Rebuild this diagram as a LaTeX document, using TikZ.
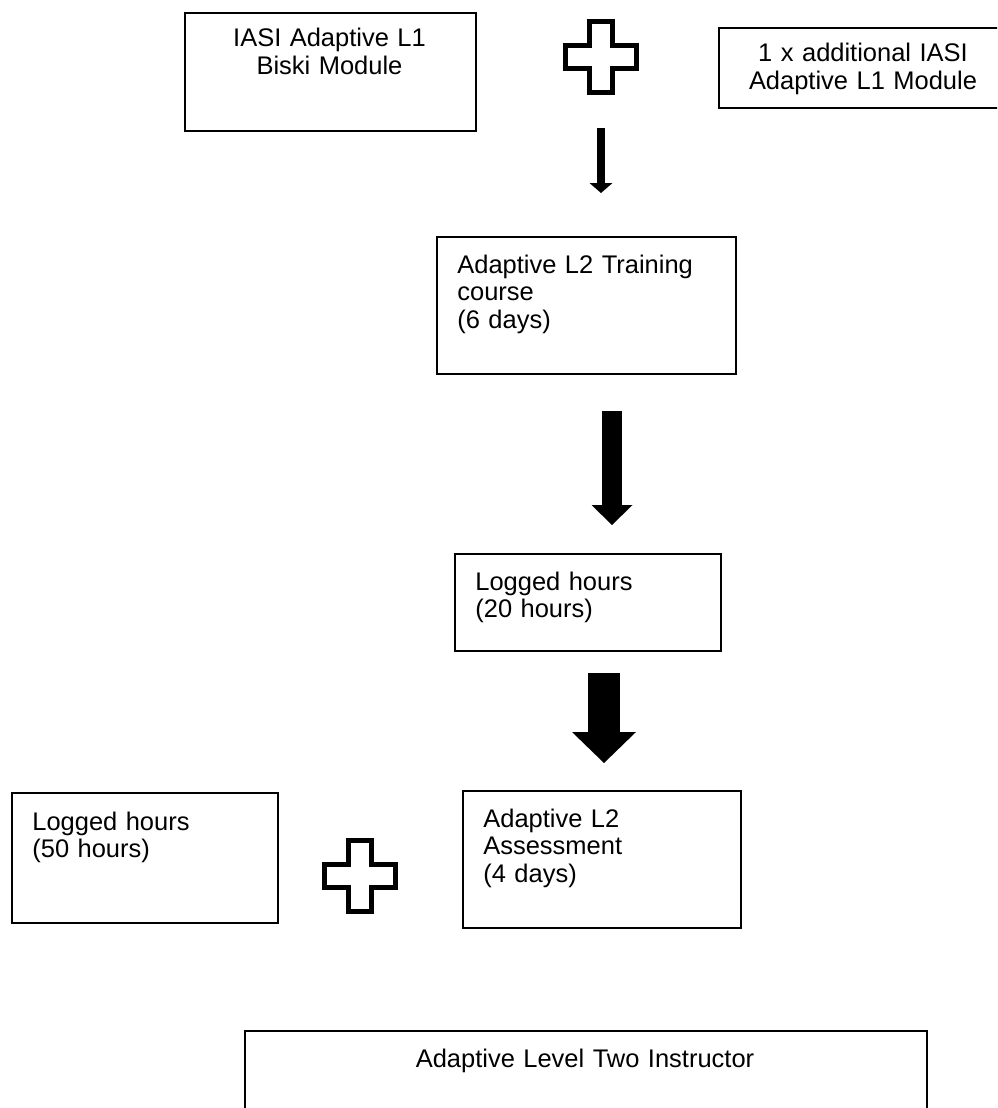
\documentclass[tikz,border=0pt]{standalone}
\usepackage{fontspec}
\setmainfont{Liberation Sans}
\usetikzlibrary{arrows.meta}

\begin{document}
\begin{tikzpicture}[x=0.02cm,y=-0.02cm,
  box/.style={draw, line width=0.04cm, anchor=north west, inner sep=0pt},
  lbl/.style={inner sep=0pt, anchor=base west, align=left, text width=7cm,
    font=\fontsize{14.5pt}{15.9pt}\selectfont},
  clbl/.style={lbl, anchor=base, align=center},
  plusmark/.pic={\draw[line width=0.1cm] (-11.5,-35.5) -- (11.5,-35.5) -- (11.5,-11.5)
    -- (35.5,-11.5) -- (35.5,11.5) -- (11.5,11.5) -- (11.5,35.5) -- (-11.5,35.5)
    -- (-11.5,11.5) -- (-35.5,11.5) -- (-35.5,-11.5) -- (-11.5,-11.5) -- cycle;}]
\useasboundingbox (0,0) rectangle (997,1108);
\clip (0,0) rectangle (997,1108);

% top row
\node[box, minimum width=5.82cm, minimum height=2.36cm] (biski) at (184,12) {};
\node[clbl] (biskit) at (329.5,47) {IASI Adaptive L1\\Biski Module};
\pic at (601,57) {plusmark};
\node[box, minimum width=5.80cm, minimum height=1.60cm] (extra) at (718,27) {};
\node[clbl] (extrat) at (863,62) {1 x additional IASI\\Adaptive L1 Module};

% training
\coordinate (a1s) at (601,128);
\coordinate (a1e) at (601,193);
\draw[line width=0.16cm, -{Triangle[width=0.46cm,length=0.2cm,line width=0pt]}] (a1s) -- (a1e);
\node[box, minimum width=5.98cm, minimum height=2.74cm] (train) at (436,236) {};
\node[lbl] (traint) at (457,273) {Adaptive L2 Training\\course\\(6 days)};

% logged hours
\coordinate (a2s) at (612,411);
\coordinate (a2e) at (612,525);
\draw[line width=0.4cm, -{Triangle[width=0.82cm,length=0.4cm,line width=0pt]}] (a2s) -- (a2e);
\node[box, minimum width=5.32cm, minimum height=1.94cm] (hrs20) at (454,553) {};
\node[lbl] (hrs20t) at (475,590) {Logged hours\\(20 hours)};

% assessment
\coordinate (a3s) at (604,673);
\coordinate (a3e) at (604,763);
\draw[line width=0.64cm, -{Triangle[width=1.28cm,length=0.62cm,line width=0pt]}] (a3s) -- (a3e);
\node[box, minimum width=5.32cm, minimum height=2.60cm] (hrs50) at (11,792) {};
\node[lbl] (hrs50t) at (32,830) {Logged hours\\(50 hours)};
\pic at (360,876) {plusmark};
\node[box, minimum width=5.56cm, minimum height=2.74cm] (assess) at (462,790) {};
\node[lbl] (assesst) at (483,827) {Adaptive L2\\Assessment\\(4 days)};

% result
\node[box, minimum width=13.64cm, minimum height=2cm] (instr) at (244,1030) {};
\node[clbl] (instrt) at (585,1067) {Adaptive Level Two Instructor};
\end{tikzpicture}
\end{document}
